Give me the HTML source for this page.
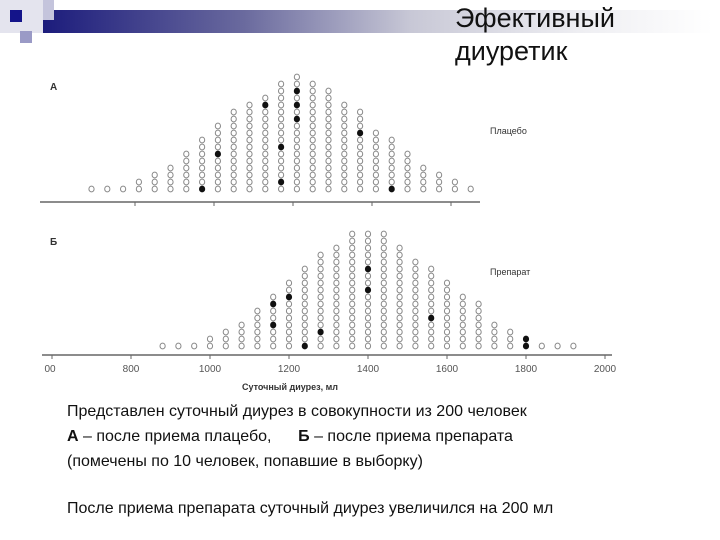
<!DOCTYPE html>
<html><head><meta charset="utf-8"><style>
body{margin:0;background:#fff;}
#wrap{position:relative;width:720px;height:540px;overflow:hidden;background:#fff;font-family:"Liberation Sans",sans-serif;}
.t{position:absolute;white-space:nowrap;color:#111;}
</style></head><body>
<div id="wrap">
<div style="position:absolute;left:43px;top:10px;width:670px;height:23px;background:linear-gradient(90deg,#1c1c7c 0%,#6a6a9e 30%,#c8c8d6 55%,#eeeef2 80%,#fff 100%);"></div>
<div style="position:absolute;left:0;top:0;width:43px;height:33px;background:#e4e4ee;"></div>
<div style="position:absolute;left:10px;top:10px;width:12px;height:12px;background:#14148a;"></div>
<div style="position:absolute;left:20px;top:31px;width:12px;height:12px;background:#9a9ac6;"></div>
<div style="position:absolute;left:43px;top:0;width:11px;height:20px;background:#c4c4dc;"></div>
<div class="t" style="left:455px;top:3px;font-size:27px;">Эфективный</div>
<div class="t" style="left:455px;top:36px;font-size:27px;">диуретик</div>
<svg id="chart" width="720" height="400" style="position:absolute;left:0;top:0;"></svg>
<div class="t" style="left:67px;top:403px;font-size:16px;">Представлен суточный диурез в совокупности из 200 человек</div>
<div class="t" style="left:67px;top:428px;font-size:16px;"><b>А</b> – после приема плацебо,&nbsp;&nbsp;&nbsp;&nbsp;&nbsp; <b>Б</b> – после приема препарата</div>
<div class="t" style="left:67px;top:453px;font-size:16px;">(помечены по 10 человек, попавшие в выборку)</div>
<div class="t" style="left:67px;top:500px;font-size:16px;">После приема препарата суточный диурез увеличился на 200 мл</div>
</div>
<script>
const binsA=[700,740,780,820,860,900,940,980,1020,1060,1100,1140,1180,1220,1260,1300,1340,1380,1420,1460,1500,1540,1580,1620,1660];
const countsA=[1,1,1,2,3,4,6,8,10,12,13,14,16,17,16,15,13,12,9,8,6,4,3,2,1];
const sampleA=[[980,1],[1020,6],[1140,13],[1180,2],[1180,7],[1220,15],[1220,13],[1220,11],[1380,9],[1460,1]];
const binsB=[880,920,960,1000,1040,1080,1120,1160,1200,1240,1280,1320,1360,1400,1440,1480,1520,1560,1600,1640,1680,1720,1760,1800,1840,1880,1920];
const countsB=[1,1,1,2,3,4,6,8,10,12,14,15,17,17,17,15,13,12,10,8,7,4,3,2,1,1,1];
const sampleB=[[1160,4],[1160,7],[1200,8],[1240,1],[1280,3],[1400,9],[1400,12],[1560,5],[1800,1],[1800,2]];
const ticks=[600,800,1000,1200,1400,1600,1800,2000];
const tickLabels=["00","800","1000","1200","1400","1600","1800","2000"];

const NS="http://www.w3.org/2000/svg";
const svg=document.getElementById('chart');
const x=v=>210+(v-1000)*0.395;
function mk(tag,attrs,parent){const e=document.createElementNS(NS,tag);for(const k in attrs)e.setAttribute(k,attrs[k]);(parent||svg).appendChild(e);return e;}
function panel(bins,counts,sample,base,axisY,axisX1,axisX2,name){
  const g=mk('g',{});
  
  
  const ax=mk('line',{x1:axisX1,x2:axisX2,y1:axisY,y2:axisY,stroke:'#666','stroke-width':1.5},g);
  
  
  bins.forEach((b,i)=>{
    for(let r=1;r<=counts[i];r++){
      const filled=sample.some(s=>s[0]===b&&s[1]===r);
      const c=mk('ellipse',{cx:x(b),cy:base-(r-1)*7,rx:2.6,ry:2.9,fill:filled?'#111':'none',stroke:filled?'#111':'#888','stroke-width':1},g);
      
      
    }
  });
  return g;
}
panel(binsA,countsA,sampleA,189,202,40,480,'panel-a');
const gb=panel(binsB,countsB,sampleB,346,355,42,612,'panel-b');
ticks.forEach((t,i)=>{
  const tk=mk('line',{x1:x(t),x2:x(t),y1:355,y2:359,stroke:'#666'});
  
  
  const lb=mk('text',{x:i===0?50:x(t),y:372,'text-anchor':'middle','font-size':10,fill:'#555','font-family':'Liberation Sans, sans-serif'});
  lb.textContent=tickLabels[i];
  
  
});
[[800,202],[1000,202],[1200,202],[1400,202],[1600,202]].forEach(p=>{
  const tk=mk('line',{x1:x(p[0])+4,x2:x(p[0])+4,y1:202,y2:206,stroke:'#666'});
  
  
});
function txt(s,xx,yy,size,name,weight,anchor){
  const t=mk('text',{x:xx,y:yy,'font-size':size,fill:'#333','font-family':'Liberation Sans, sans-serif','font-weight':weight||'normal','text-anchor':anchor||'start'});
  t.textContent=s;
  
  
}
txt('А',50,90,10,'panel-a-label','bold');
txt('Б',50,245,10,'panel-b-label','bold');
txt('Плацебо',490,134,9,'legend-placebo');
txt('Препарат',490,275,9,'legend-drug');
txt('Суточный диурез, мл',290,390,9,'x-axis-title','bold','middle');
</script>
</body></html>
